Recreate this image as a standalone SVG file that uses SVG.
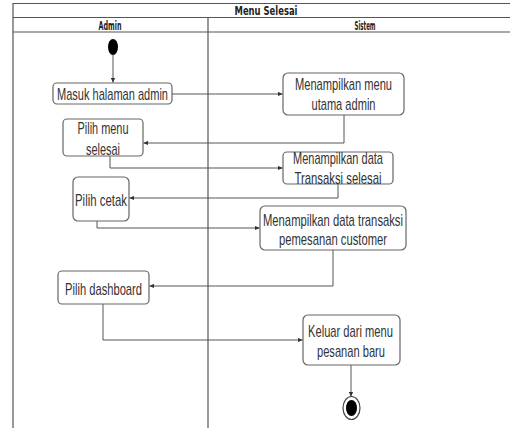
<svg xmlns="http://www.w3.org/2000/svg" width="510" height="428" viewBox="0 0 510 428">
  <style>
    .frame { fill: none; stroke: #555; stroke-width: 1.2; }
    .act { fill: #fff; stroke: #666; stroke-width: 1.2; }
    .lbl { font-family: "Liberation Sans", Arial, sans-serif; font-size: 17px; fill: #333; text-anchor: middle; }
    .hdr { font-family: "DejaVu Sans", "Liberation Sans", sans-serif; font-weight: bold; font-size: 11.5px; fill: #222; text-anchor: middle; }
    .flow { fill: none; stroke: #555; stroke-width: 1; }
  </style>
  <defs>
    <marker id="arrow" viewBox="0 0 8 8" refX="7.5" refY="4" markerWidth="5" markerHeight="5" orient="auto" markerUnits="userSpaceOnUse">
      <path d="M0,0.5 L8,4 L0,7.5 Z" fill="#333"/>
    </marker>
  </defs>
  <rect width="510" height="428" fill="#fff"/>

  <!-- swimlane frame -->
  <g id="swimlanes">
    <path class="frame" d="M13,428 V3.5 H512 M13,17.5 H512 M13,32 H512 M208,17.5 V428"/>
    <text class="hdr" x="266" y="15" textLength="63" lengthAdjust="spacingAndGlyphs">Menu  Selesai</text>
    <text class="hdr" x="110" y="29.5" textLength="23" lengthAdjust="spacingAndGlyphs">Admin</text>
    <text class="hdr" x="365" y="29.5" textLength="21" lengthAdjust="spacingAndGlyphs">Sistem</text>
  </g>

  <!-- control flow -->
  <g id="connectors">
    <path class="flow" d="M113,55 V82.5" marker-end="url(#arrow)"/>
    <path class="flow" d="M172,94 H282.5" marker-end="url(#arrow)"/>
    <path class="flow" d="M344,115 V143 H143.5" marker-end="url(#arrow)"/>
    <path class="flow" d="M110,156 V168 H282.5" marker-end="url(#arrow)"/>
    <path class="flow" d="M338,184 V198 H129.5" marker-end="url(#arrow)"/>
    <path class="flow" d="M97,221 V228 H259.5" marker-end="url(#arrow)"/>
    <path class="flow" d="M333,250 V286 H149.5" marker-end="url(#arrow)"/>
    <path class="flow" d="M103,304 V340 H302.5" marker-end="url(#arrow)"/>
    <path class="flow" d="M351,365 V396.5" marker-end="url(#arrow)"/>
  </g>

  <g id="start">
    <ellipse cx="113" cy="47" rx="5" ry="8" fill="#000"/>
  </g>

  <g id="masuk-halaman-admin">
    <rect class="act" x="53" y="83" width="119" height="21" rx="4"/>
    <text class="lbl" x="112.5" y="100" textLength="111" lengthAdjust="spacingAndGlyphs">Masuk halaman admin</text>
  </g>

  <g id="menampilkan-menu-utama">
    <rect class="act" x="283" y="73" width="121" height="42" rx="5"/>
    <text class="lbl" x="343.5" y="90" textLength="97" lengthAdjust="spacingAndGlyphs">Menampilkan menu</text>
    <text class="lbl" x="343.5" y="110" textLength="64" lengthAdjust="spacingAndGlyphs">utama admin</text>
  </g>

  <g id="pilih-menu-selesai">
    <rect class="act" x="63" y="119" width="80" height="37" rx="4"/>
    <text class="lbl" x="103" y="134" textLength="51" lengthAdjust="spacingAndGlyphs">Pilih menu</text>
    <text class="lbl" x="103" y="154.5" textLength="34" lengthAdjust="spacingAndGlyphs">selesai</text>
  </g>

  <g id="menampilkan-transaksi-selesai">
    <rect class="act" x="283" y="152" width="110" height="32" rx="4"/>
    <text class="lbl" x="338" y="164" textLength="90" lengthAdjust="spacingAndGlyphs">Menampilkan data</text>
    <text class="lbl" x="338" y="184" textLength="87" lengthAdjust="spacingAndGlyphs">Transaksi selesai</text>
  </g>

  <g id="pilih-cetak">
    <rect class="act" x="73" y="177" width="56" height="44" rx="5"/>
    <text class="lbl" x="101" y="205.5" textLength="52" lengthAdjust="spacingAndGlyphs">Pilih cetak</text>
  </g>

  <g id="menampilkan-transaksi-pemesanan">
    <rect class="act" x="260" y="206" width="146" height="44" rx="5"/>
    <text class="lbl" x="333" y="225.5" textLength="140" lengthAdjust="spacingAndGlyphs">Menampilkan data transaksi</text>
    <text class="lbl" x="333" y="244.5" textLength="108" lengthAdjust="spacingAndGlyphs">pemesanan customer</text>
  </g>

  <g id="pilih-dashboard">
    <rect class="act" x="58" y="271" width="91" height="33" rx="4"/>
    <text class="lbl" x="103.5" y="294.5" textLength="77" lengthAdjust="spacingAndGlyphs">Pilih dashboard</text>
  </g>

  <g id="keluar-menu">
    <rect class="act" x="303" y="315" width="97" height="50" rx="5"/>
    <text class="lbl" x="350.5" y="337" textLength="85" lengthAdjust="spacingAndGlyphs">Keluar dari menu</text>
    <text class="lbl" x="351" y="357" textLength="68" lengthAdjust="spacingAndGlyphs">pesanan baru</text>
  </g>

  <g id="end">
    <ellipse cx="351.5" cy="408" rx="8.5" ry="11.5" fill="#fff" stroke="#444" stroke-width="1.2"/>
    <ellipse cx="351.5" cy="408" rx="5.5" ry="8" fill="#000"/>
  </g>
</svg>
